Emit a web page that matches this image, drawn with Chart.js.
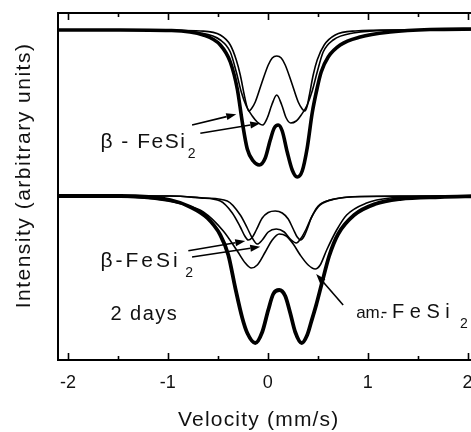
<!DOCTYPE html>
<html><head><meta charset="utf-8">
<script src="https://cdn.jsdelivr.net/npm/chart.js@4/dist/chart.umd.min.js"></script>
<style>
html,body{margin:0;padding:0;background:#fff;overflow:hidden;width:471px;height:432px}
#wrap{position:relative;width:490px;height:432px}
canvas{display:block}
</style>
</head><body><div id="wrap"><canvas id="c" width="490" height="432" style="width:490px;height:432px"></canvas></div>
<script>
// ---- tick labels ----
const xMajorTicks = [-2, -1, 0, 1, 2];
const xMinorTicks = [-1.5, -0.5, 0.5, 1.5];

// ---- upper spectrum (velocity mm/s, intensity arb. units) ----
const topDataV = [-2.1,-1.475,-0.975,-0.645,-0.475,-0.375,-0.305,-0.255,-0.205,-0.145,-0.085,-0.025,0.025,0.065,0.105,0.145,0.195,0.245,0.295,0.345,0.395,0.445,0.495,0.535,0.605,0.725,0.925,1.225,1.625,2.1];
const topDataI = [330,330,329.5,325,315,298,271,238,211,199,195,202,220,232,235,229,208,190,183,189,212,247,272,288,303,315,323,328,330.5,331];

const topB1V = [-2.1,-1.175,-0.675,-0.475,-0.375,-0.315,-0.275,-0.235,-0.21,-0.19,-0.165,-0.125,-0.06,0.005,0.045,0.09,0.135,0.175,0.24,0.305,0.345,0.37,0.395,0.415,0.455,0.495,0.565,0.675,0.875,1.325,2.1];
const topB1I = [330,330,329,325,315,300,285,265,254,249,251,258,277,295,302,304,302,295,277,258,251,249,254,264,285,300,315,325,329,330,330.5];

const topB2V = [-2.1,-1.175,-0.675,-0.475,-0.375,-0.315,-0.265,-0.215,-0.155,-0.105,-0.05,-0.005,0.04,0.09,0.14,0.185,0.23,0.285,0.335,0.395,0.445,0.495,0.555,0.655,0.855,1.325,2.1];
const topB2I = [330,330,327,320,308,288,268,254,244,238,235,242,255,265,255,242,237,239,245,255,269,288,308,320,327,330,330.5];

// ---- lower spectrum (2 days) ----
const botDataV = [-2.1,-1.475,-0.975,-0.775,-0.605,-0.475,-0.395,-0.325,-0.255,-0.205,-0.125,-0.055,0.005,0.055,0.115,0.175,0.225,0.275,0.34,0.395,0.435,0.485,0.545,0.615,0.705,0.865,1.075,1.325,1.725,2.1];
const botDataI = [164,164,160,153,142,125,105,72,42,27,17,28,50,66,70,64,47,28,17,25,38,55,78,104,126,145,156,161,163,164];

const botB1V = [-2.1,-0.975,-0.675,-0.475,-0.355,-0.275,-0.23,-0.195,-0.16,-0.115,-0.055,0.005,0.075,0.145,0.205,0.255,0.295,0.33,0.365,0.395,0.435,0.505,0.625,0.825,1.325,2.1];
const botB1I = [164,164,162,159,147,133,124,120,122,130,142,147.5,149,147,141,131,123,120,124,131,142,154,160,163,164,164];

const botB2V = [-2.1,-0.975,-0.625,-0.405,-0.275,-0.205,-0.155,-0.105,-0.055,0.005,0.085,0.165,0.225,0.285,0.335,0.385,0.445,0.525,0.675,0.925,2.1];
const botB2I = [164,164,162,159,145,132,122,116,120,128,131,128,121,117,122,131,144,155,161,163.5,164];

const botAmV = [-2.1,-1.475,-1.075,-0.825,-0.645,-0.445,-0.305,-0.225,-0.165,-0.105,-0.025,0.045,0.115,0.185,0.255,0.325,0.405,0.475,0.525,0.59,0.69,0.79,0.99,1.225,1.625,2.1];
const botAmI = [164,163,160,155,148,129,109,97,92,95,108,120,126,124,116,105,95,91,95,110,130,145,157,162,163.5,164];

// ---- annotations (anchor in data coordinates) ----
const labels = [
  {t:'β - FeSi', v:-1.675, i:212, size:21, sp:1.5},
  {t:'2',        v:-0.8,   i:202, size:14, sp:0},
  {t:'β-FeSi',   v:-1.675, i:93,  size:21, sp:3},
  {t:'2',        v:-0.825, i:83,  size:14, sp:0},
  {t:'2 days',   v:-1.575, i:40,  size:20, sp:1.5},
  {t:'am.',      v:0.885,  i:42,  size:17, sp:0},
  {t:'-',        v:1.135,  i:42,  size:19, sp:0},
  {t:'FeSi',     v:1.245,  i:42,  size:20, sp:5.5},
  {t:'2',        v:1.925,  i:32,  size:14, sp:0}
];
const arrows = [
  [-0.758,235,-0.315,245.7],
  [-0.675,226.7,-0.075,236.7],
  [-0.795,109.3,-0.225,119],
  [-0.758,103,-0.075,113.3],
  [0.755,55,0.485,86]
];

const FONT = "'Liberation Sans', Arial, sans-serif";
function pts(vs, is){ return vs.map((v,k)=>({x:v, y:is[k]})); }
function ds(vs, is, w){
  return {data: pts(vs,is), borderColor:'#000', borderWidth:w, pointRadius:0,
          fill:false, cubicInterpolationMode:'monotone'};
}

const framePlugin = {
  id:'frame',
  afterDatasetsDraw(chart){
    const {ctx, chartArea:a, scales:{x, y}} = chart;
    ctx.save();
    ctx.strokeStyle = '#000';
    ctx.lineWidth = 2;
    ctx.strokeRect(a.left, a.top, a.right - a.left, a.bottom - a.top);
    ctx.lineWidth = 1.6;
    const tick = (v, len) => {
      const px = Math.round(x.getPixelForValue(v)) + 0.5;
      ctx.beginPath();
      ctx.moveTo(px, a.bottom); ctx.lineTo(px, a.bottom - len);
      ctx.moveTo(px, a.top); ctx.lineTo(px, a.top + len);
      ctx.stroke();
    };
    xMajorTicks.forEach(v => tick(v, 7));
    xMinorTicks.forEach(v => tick(v, 4));

    // arrows
    ctx.fillStyle = '#000';
    ctx.lineWidth = 1.6;
    arrows.forEach(([v1,i1,v2,i2]) => {
      const x1 = x.getPixelForValue(v1), y1 = y.getPixelForValue(i1);
      const x2 = x.getPixelForValue(v2), y2 = y.getPixelForValue(i2);
      const ang = Math.atan2(y2 - y1, x2 - x1);
      const L = 10, W = 3.5;
      const bx = x2 - L*Math.cos(ang), by = y2 - L*Math.sin(ang);
      ctx.beginPath(); ctx.moveTo(x1,y1); ctx.lineTo(bx,by); ctx.stroke();
      ctx.beginPath();
      ctx.moveTo(x2,y2);
      ctx.lineTo(bx + W*Math.sin(ang), by - W*Math.cos(ang));
      ctx.lineTo(bx - W*Math.sin(ang), by + W*Math.cos(ang));
      ctx.closePath(); ctx.fill();
    });

    // labels
    ctx.fillStyle = '#111';
    ctx.textBaseline = 'alphabetic';
    ctx.textAlign = 'left';
    labels.forEach(l => {
      ctx.font = l.size + 'px ' + FONT;
      ctx.letterSpacing = l.sp + 'px';
      ctx.fillText(l.t, x.getPixelForValue(l.v), y.getPixelForValue(l.i));
    });

    // axis titles
    ctx.font = '21px ' + FONT;
    ctx.letterSpacing = '1.2px';
    ctx.textAlign = 'center';
    ctx.fillText('Velocity (mm/s)', (a.left + a.right)/2 - 9, 426);
    ctx.save();
    ctx.translate(30, (a.top + a.bottom)/2 - 11);
    ctx.rotate(-Math.PI/2);
    ctx.letterSpacing = '1.5px';
    ctx.fillText('Intensity (arbitrary units)', 0, 0);
    ctx.restore();
    ctx.restore();
  }
};

new Chart(document.getElementById('c'), {
  type:'line',
  data:{ datasets:[
    ds(topB1V, topB1I, 1.6),
    ds(topB2V, topB2I, 1.6),
    ds(topDataV, topDataI, 3.6),
    ds(botB1V, botB1I, 1.6),
    ds(botB2V, botB2I, 1.6),
    ds(botAmV, botAmI, 1.6),
    ds(botDataV, botDataI, 3.8)
  ]},
  options:{
    responsive:false, animation:false, devicePixelRatio:1,
    layout:{padding:{left:58, right:12.5, top:13, bottom:0}},
    plugins:{legend:{display:false}, tooltip:{enabled:false}},
    scales:{
      x:{type:'linear', min:-2.1, max:2.1,
         afterBuildTicks: s => { s.ticks = xMajorTicks.map(v => ({value:v})); },
         afterFit: s => { s.height = 72; },
         grid:{display:false, drawTicks:false}, border:{display:false},
         ticks:{autoSkip:false, maxRotation:0, padding:12, color:'#111',
                font:{family:FONT, size:18}}},
      y:{display:false, min:0, max:347}
    }
  },
  plugins:[framePlugin]
});
</script>
</body></html>
